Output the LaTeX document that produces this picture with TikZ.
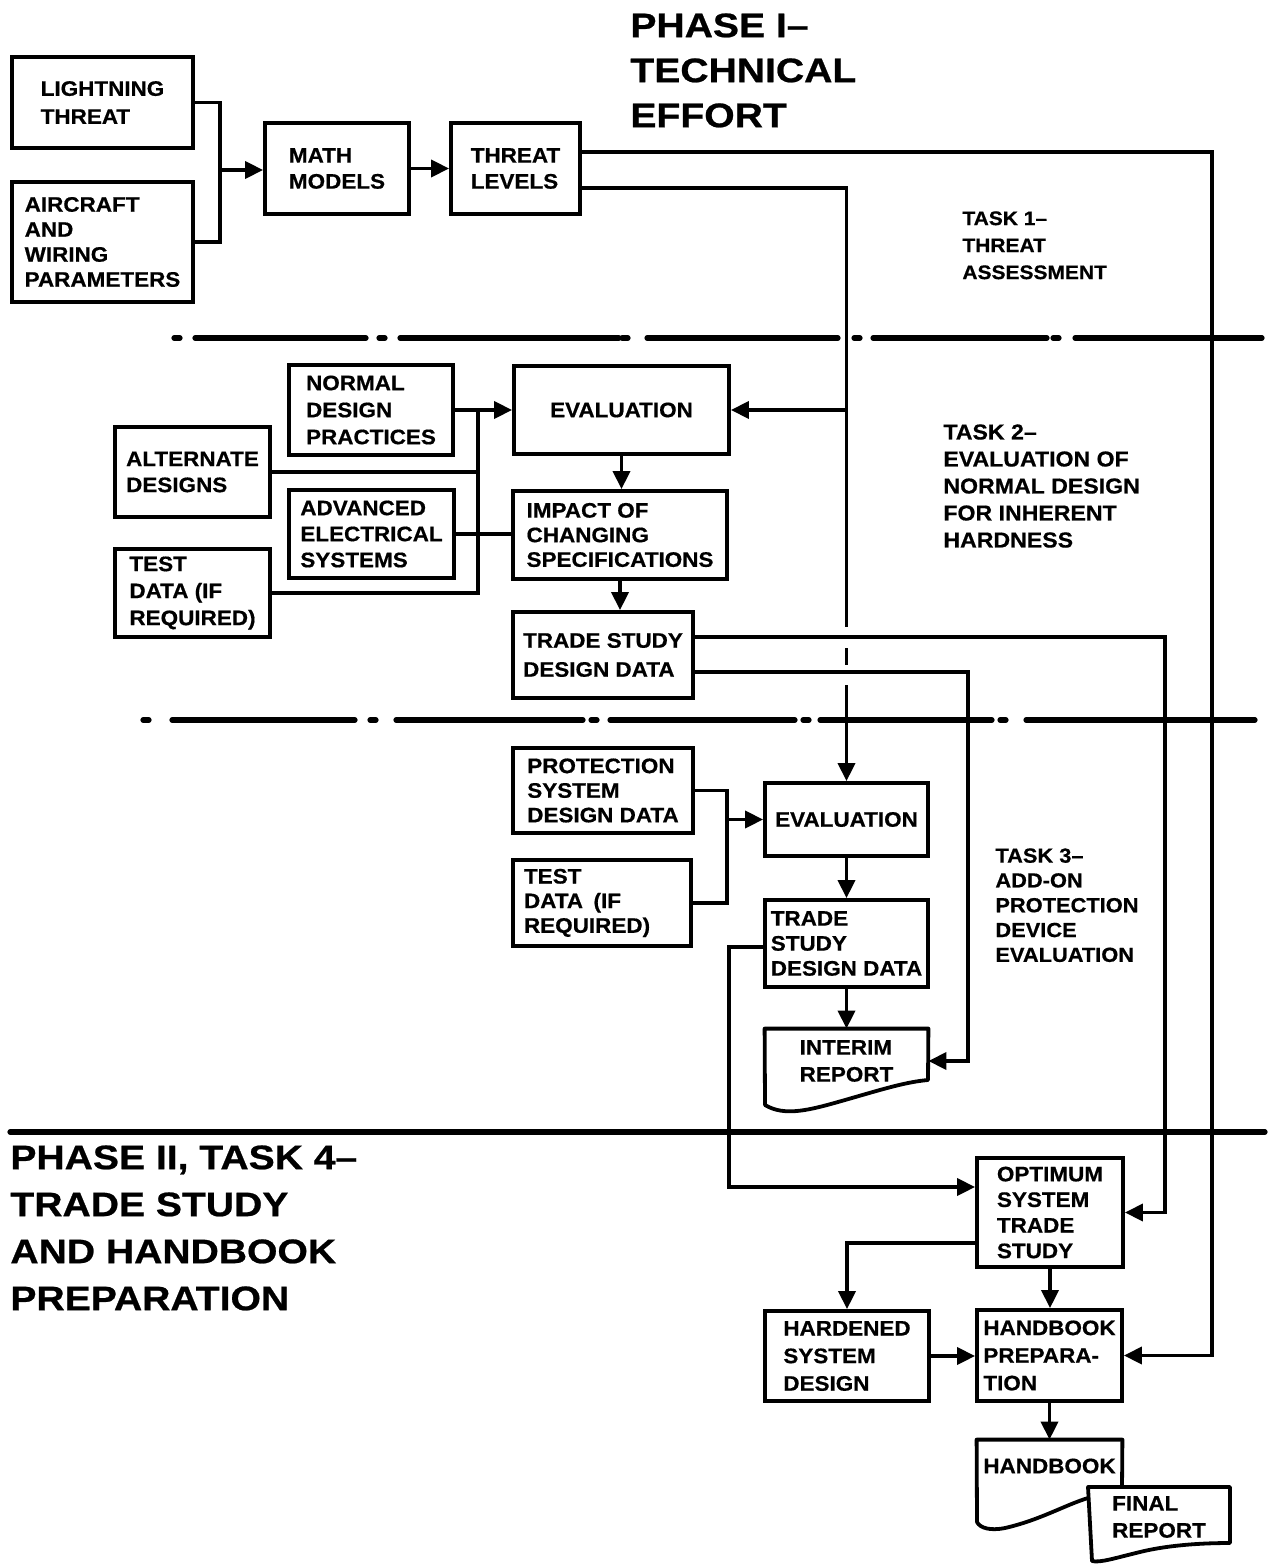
\documentclass[tikz,border=0pt]{standalone}
\usepackage{fontspec}
\newfontfamily\boxfont[FakeStretch=1.07,BoldFeatures={FakeBold=0.6}]{Liberation Sans}
\newfontfamily\titlefont[FakeStretch=1.15,BoldFeatures={FakeBold=0.7}]{Liberation Sans}
\usetikzlibrary{arrows.meta}
\begin{document}
\begin{tikzpicture}[x=0.5pt,y=-0.5pt,
  sz/.style 2 args={minimum width=#1*0.5pt,minimum height=#2*0.5pt},
  box/.style={draw,line width=1.9pt,inner sep=0pt,align=left,
    font={\boxfont\bfseries\fontsize{10.5pt}{13pt}\selectfont}},
  docn/.style={draw=none,inner sep=0pt,align=left,
    font={\boxfont\bfseries\fontsize{10.5pt}{13.5pt}\selectfont}},
  docline/.style={line width=1.9pt,line join=round},
  conn/.style={line width=1.8pt},
  arr/.style={line width=1.8pt,-{Triangle[length=9pt,width=8.5pt]}},
  ttl/.style={inner sep=0pt,align=left,anchor=north west,
    font={\titlefont\bfseries\fontsize{17pt}{22.5pt}\selectfont}},
  tsk/.style={inner sep=0pt,align=left,anchor=north west},
  sep/.style={line width=2.6pt,line cap=round}
]
\useasboundingbox (0,0) rectangle (1270,1566);

% ---------- separators ----------
\foreach \a/\b in {174/180,195/366,379/385,400/619,622/628,647/838,854/860,873/1047,1053/1059,1075/1262}
  \draw[sep] (\a,338) -- (\b,338);
\foreach \a/\b in {143/149,172/355,370/376,396/583,591/597,610/795,803/809,820/992,1000/1006,1026/1255}
  \draw[sep] (\a,720) -- (\b,720);
\draw[sep] (10,1132) -- (1265,1132);

% ---------- titles ----------
\node[ttl] (p1) at (630,13) {PHASE I–\\TECHNICAL\\EFFORT};
\node[ttl,font={\titlefont\bfseries\fontsize{17pt}{23.5pt}\selectfont}] (p2) at (10,1145)
  {PHASE II, TASK 4–\\TRADE STUDY\\AND HANDBOOK\\PREPARATION};
\node[tsk,font={\boxfont\bfseries\fontsize{9.8pt}{13.5pt}\selectfont}] (k1) at (962,211)
  {TASK 1–\\THREAT\\ASSESSMENT};
\node[tsk,font={\boxfont\bfseries\fontsize{10.8pt}{13.5pt}\selectfont}] (k2) at (943,424)
  {TASK 2–\\EVALUATION OF\\NORMAL DESIGN\\FOR INHERENT\\HARDNESS};
\node[tsk,font={\boxfont\bfseries\fontsize{10.2pt}{12.4pt}\selectfont}] (k3) at (995,848)
  {TASK 3–\\ADD-ON\\PROTECTION\\DEVICE\\EVALUATION};

% ---------- task 1 boxes ----------
\node[box,sz={181}{91},font={\boxfont\bfseries\fontsize{10.5pt}{14pt}\selectfont}] (lt) at (102.5,102.5) {LIGHTNING\\THREAT};
\node[box,sz={181}{120},font={\boxfont\bfseries\fontsize{10.5pt}{12.5pt}\selectfont}] (ac) at (102.5,242) {AIRCRAFT\\AND\\WIRING\\PARAMETERS};
\node[box,sz={144}{91}] (mm) at (337,168.5) {MATH\\MODELS};
\node[box,sz={129}{91}] (tl) at (515.5,168.5) {THREAT\\LEVELS};

% ---------- task 2 boxes ----------
\node[box,sz={164}{90},font={\boxfont\bfseries\fontsize{10.5pt}{13.5pt}\selectfont}] (nd) at (371,410) {NORMAL\\DESIGN\\PRACTICES};
\node[box,sz={215}{88}] (ev2) at (621.5,410) {EVALUATION};
\node[box,sz={155}{90}] (ad) at (192.5,472) {ALTERNATE\\DESIGNS};
\node[box,sz={165}{88}] (ae) at (371.5,534) {ADVANCED\\ELECTRICAL\\SYSTEMS};
\node[box,sz={214}{88},font={\boxfont\bfseries\fontsize{10.5pt}{12.3pt}\selectfont}] (im) at (620,535) {IMPACT OF\\CHANGING\\SPECIFICATIONS};
\node[box,sz={155}{88},font={\boxfont\bfseries\fontsize{10.5pt}{13.5pt}\selectfont}] (td2) at (192.5,593) {TEST\\DATA (IF\\REQUIRED)};
\node[box,sz={180}{86},font={\boxfont\bfseries\fontsize{10.5pt}{14.5pt}\selectfont}] (ts2) at (603,655) {TRADE STUDY\\DESIGN DATA};

% ---------- task 3 boxes ----------
\node[box,sz={180}{85},font={\boxfont\bfseries\fontsize{10.5pt}{12.3pt}\selectfont}] (pd) at (603,790.5) {PROTECTION\\SYSTEM\\DESIGN DATA};
\node[box,sz={178}{86},text width=78pt,font={\boxfont\bfseries\fontsize{10.5pt}{12.3pt}\selectfont}] (td3) at (602,903) {TEST\\DATA\ \,(IF\\REQUIRED)};
\node[box,sz={163}{73}] (ev3) at (846.5,819.5) {EVALUATION};
\node[box,sz={163}{87},font={\boxfont\bfseries\fontsize{10.5pt}{12.5pt}\selectfont}] (ts3) at (846.5,943.5) {TRADE\\STUDY\\DESIGN DATA};

% interim report document
\node[docn,sz={163}{64}] (ir) at (846.5,1061) {INTERIM\\REPORT};
\draw[docline] (ir.north west) -- (ir.north east) -- (928,1080)
  .. controls (905,1082) and (880,1090) .. (845,1100)
  .. controls (810,1110) and (785,1117) .. (765,1105) -- cycle;

% ---------- phase II boxes ----------
\node[box,sz={146}{109},font={\boxfont\bfseries\fontsize{10.5pt}{12.8pt}\selectfont}] (op) at (1050,1212.5) {OPTIMUM\\SYSTEM\\TRADE\\STUDY};
\node[box,sz={164}{90},font={\boxfont\bfseries\fontsize{10.5pt}{13.8pt}\selectfont}] (hs) at (847,1356) {HARDENED\\SYSTEM\\DESIGN};
\node[box,sz={145}{91},font={\boxfont\bfseries\fontsize{10.5pt}{13.8pt}\selectfont}] (hp) at (1049.5,1355.5) {HANDBOOK\\PREPARA-\\TION};

% handbook + final report documents
\node[docn,sz={145}{52}] (hb) at (1049.5,1466) {HANDBOOK};
\draw[docline] (1122,1487) -- (hb.north east) -- (hb.north west) -- (977,1522)
  .. controls (980,1528) and (990,1531) .. (1005,1528)
  .. controls (1040,1520) and (1065,1505) .. (1088,1498);
\draw[docline,fill=white] (1088,1487) -- (1230,1487) -- (1230,1543)
  .. controls (1190,1543) and (1160,1547) .. (1140,1552)
  .. controls (1115,1558) and (1100,1563) .. (1092,1561) -- cycle;
\node[docn,sz={142}{60}] (fr) at (1159,1517) {FINAL\\REPORT};

% ---------- connectors: task 1 ----------
\coordinate (b1) at (220,170);
\draw[conn] (lt.east) -| (b1) |- (ac.east);
\draw[arr] (b1) -- (b1 -| mm.west);
\draw[arr] (mm.east) -- (tl.west);
\coordinate (xr) at (1212,0);
\draw[arr] ([yshift=8.25pt]tl.east) -| (xr |- hp.east) -- (hp.east);
\coordinate (g1) at (0,627);
\coordinate (g2) at (0,648);
\coordinate (g3) at (0,665);
\coordinate (g4) at (0,685);
\draw[conn] ([yshift=-9.75pt]tl.east) -| (ev3.north |- g1)
  (ev3.north |- g2) -- (ev3.north |- g3);
\draw[arr] (ev3.north |- g4) -- (ev3.north);
\draw[arr] (ev3.north |- ev2.east) -- (ev2.east);

% ---------- connectors: task 2 ----------
\coordinate (bus) at (478,0);
\draw[arr] (nd.east) -- (ev2.west);
\draw[conn] (ad.east) -- (ad.east -| bus);
\draw[conn] (td2.east) -| (bus |- nd.east);
\draw[conn] (ae.east) -- (ae.east -| im.west);
\draw[arr] (ev2.south) -- (ev2.south |- im.north);
\draw[arr] (im.south) -- (im.south |- ts2.north);
\coordinate (xq) at (1165,0);
\coordinate (xs) at (968,0);
\draw[arr] ([yshift=9pt]ts2.east) -| (xq |- op.east) -- (op.east);
\draw[arr] ([yshift=-8.5pt]ts2.east) -| (xs |- ir.east) -- (ir.east);

% ---------- connectors: task 3 ----------
\coordinate (b3) at (727,0);
\draw[conn] (pd.east) -| (b3 |- td3.east) -- (td3.east);
\draw[arr] (b3 |- ev3.west) -- (ev3.west);
\draw[arr] (ev3.south) -- (ts3.north);
\draw[arr] (ts3.south) -- (ir.north);
\coordinate (xl) at (729,0);
\coordinate (opl) at ([yshift=12.75pt]op.west);
\draw[arr] ([yshift=-1.75pt]ts3.west) -| (xl |- opl) -- (opl);

% ---------- connectors: phase II ----------
\draw[arr] ([yshift=-15.25pt]op.west) -| (hs.north);
\draw[arr] (op.south) -- (op.south |- hp.north);
\draw[arr] (hs.east) -- (hs.east -| hp.west);
\draw[arr] (hp.south) -- (hp.south |- hb.north);
\end{tikzpicture}
\end{document}
